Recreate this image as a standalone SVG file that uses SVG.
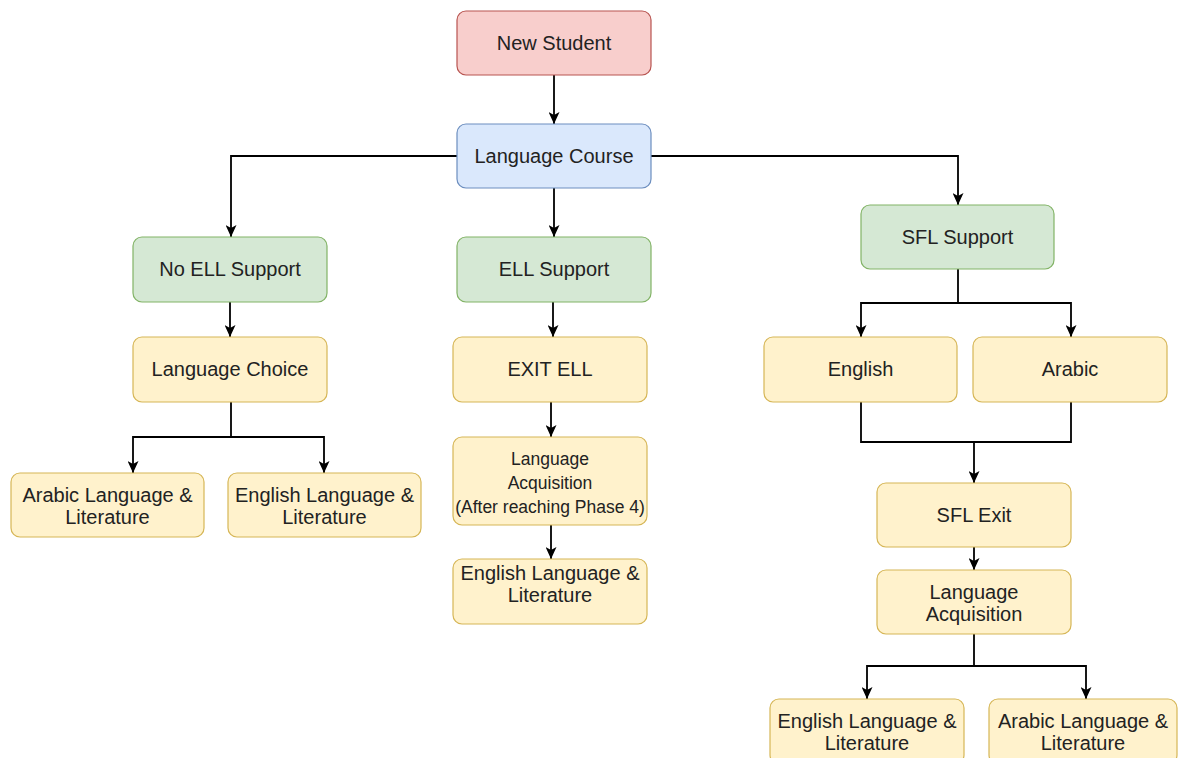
<svg xmlns="http://www.w3.org/2000/svg" width="1178" height="758" viewBox="0 0 1178 758">
<defs>
<style>
.n rect{stroke-width:1.2}
.red{fill:#f8cecc;stroke:#b85450}
.blue{fill:#dae8fc;stroke:#6c8ebf}
.green{fill:#d5e8d4;stroke:#82b366}
.yel{fill:#fff2cc;stroke:#d6b656}
text{font-family:"Liberation Sans",Arial,sans-serif;font-size:20px;fill:#222;text-anchor:middle}
.sm{font-size:17.5px}
.c path{fill:none;stroke:#000;stroke-width:1.8}
</style>
<marker id="ah" viewBox="0 0 12 11" refX="12" refY="5.5" markerWidth="12" markerHeight="11" markerUnits="userSpaceOnUse" orient="auto">
<path d="M0,0 L12,5.5 L0,11 L3,5.5 Z" fill="#000"/>
</marker>
</defs>
<rect width="1178" height="758" fill="#fff"/>
<g class="c" id="connectors">
<path d="M554,75 V124" marker-end="url(#ah)"/>
<path d="M457,156 H231 V237" marker-end="url(#ah)"/>
<path d="M554,188 V237" marker-end="url(#ah)"/>
<path d="M651,156 H958 V205" marker-end="url(#ah)"/>
<path d="M230,302 V337" marker-end="url(#ah)"/>
<path d="M231,402 V437 H133 V473" marker-end="url(#ah)"/>
<path d="M231,437 H324 V473" marker-end="url(#ah)"/>
<path d="M553,302 V337" marker-end="url(#ah)"/>
<path d="M551,402 V437" marker-end="url(#ah)"/>
<path d="M551,525 V559" marker-end="url(#ah)"/>
<path d="M958,269 V303 H861 V337" marker-end="url(#ah)"/>
<path d="M958,303 H1071 V337" marker-end="url(#ah)"/>
<path d="M861,402 V442 H974 V483" marker-end="url(#ah)"/>
<path d="M1071,402 V442 H974"/>
<path d="M974,547 V570" marker-end="url(#ah)"/>
<path d="M974,634 V666 H867 V699" marker-end="url(#ah)"/>
<path d="M974,666 H1086 V699" marker-end="url(#ah)"/>
</g>
<g class="n" id="new-student"><rect class="red" x="457" y="11" width="194" height="64" rx="9"/><text x="554" y="50">New Student</text></g>
<g class="n" id="language-course"><rect class="blue" x="457" y="124" width="194" height="64" rx="9"/><text x="554" y="163">Language Course</text></g>
<g class="n" id="no-ell-support"><rect class="green" x="133" y="237" width="194" height="65" rx="9"/><text x="230" y="276">No ELL Support</text></g>
<g class="n" id="ell-support"><rect class="green" x="457" y="237" width="194" height="65" rx="9"/><text x="554" y="276">ELL Support</text></g>
<g class="n" id="sfl-support"><rect class="green" x="861" y="205" width="193" height="64" rx="9"/><text x="957.5" y="244">SFL Support</text></g>
<g class="n" id="language-choice"><rect class="yel" x="133" y="337" width="194" height="65" rx="9"/><text x="230" y="376">Language Choice</text></g>
<g class="n" id="arabic-ll-left"><rect class="yel" x="11" y="473" width="193" height="64" rx="9"/><text x="107.5" y="502">Arabic Language &amp;</text><text x="107.5" y="524">Literature</text></g>
<g class="n" id="english-ll-left"><rect class="yel" x="228" y="473" width="193" height="64" rx="9"/><text x="324.5" y="502">English Language &amp;</text><text x="324.5" y="524">Literature</text></g>
<g class="n" id="exit-ell"><rect class="yel" x="453" y="337" width="194" height="65" rx="9"/><text x="550" y="376">EXIT ELL</text></g>
<g class="n" id="language-acquisition-ell"><rect class="yel" x="453" y="437" width="194" height="88" rx="9"/><text class="sm" x="550" y="465">Language</text><text class="sm" x="550" y="489">Acquisition</text><text class="sm" x="550" y="513">(After reaching Phase 4)</text></g>
<g class="n" id="english-ll-center"><rect class="yel" x="453" y="559" width="194" height="65" rx="9"/><text x="550" y="580">English Language &amp;</text><text x="550" y="602">Literature</text></g>
<g class="n" id="english"><rect class="yel" x="764" y="337" width="193" height="65" rx="9"/><text x="860.5" y="376">English</text></g>
<g class="n" id="arabic"><rect class="yel" x="973" y="337" width="194" height="65" rx="9"/><text x="1070" y="376">Arabic</text></g>
<g class="n" id="sfl-exit"><rect class="yel" x="877" y="483" width="194" height="64" rx="9"/><text x="974" y="522">SFL Exit</text></g>
<g class="n" id="language-acquisition-sfl"><rect class="yel" x="877" y="570" width="194" height="64" rx="9"/><text x="974" y="599">Language</text><text x="974" y="621">Acquisition</text></g>
<g class="n" id="english-ll-right"><rect class="yel" x="770" y="699" width="194" height="65" rx="9"/><text x="867" y="728">English Language &amp;</text><text x="867" y="750">Literature</text></g>
<g class="n" id="arabic-ll-right"><rect class="yel" x="989" y="699" width="188" height="65" rx="9"/><text x="1083" y="728">Arabic Language &amp;</text><text x="1083" y="750">Literature</text></g>
</svg>
